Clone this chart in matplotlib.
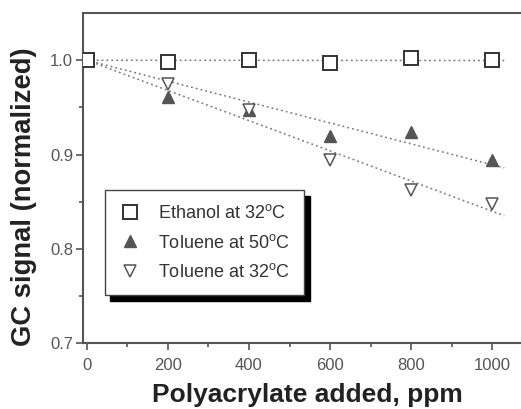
import numpy as np
import matplotlib
matplotlib.use("Agg")
import matplotlib.pyplot as plt

plt.rcParams['font.family'] = ['Liberation Sans', 'DejaVu Sans']
plt.rcParams['mathtext.default'] = 'regular'

# data
ppm = [0, 200, 400, 600, 800, 1000]
ethanol_32 = [1.000, 0.998, 1.000, 0.997, 1.002, 1.000]
toluene_50 = [1.000, 0.961, 0.947, 0.920, 0.924, 0.894]
toluene_32 = [1.000, 0.975, 0.947, 0.894, 0.862, 0.848]

labels = ['Ethanol at 32$^o$C', 'Toluene at 50$^o$C', 'Toluene at 32$^o$C']

fig = plt.figure(figsize=(5.21, 4.09), dpi=100)
ax = fig.add_axes([0.159, 0.161, 0.84, 0.807])

# dotted fit lines, forced through (0, 1)
xfit = np.array([0, 1030])
x = np.array(ppm, dtype=float)
for ys in (ethanol_32, toluene_50, toluene_32):
    k = np.sum(x * (np.array(ys) - 1.0)) / np.sum(x * x)
    ax.plot(xfit, 1.0 + k * xfit, ls=(0, (1.2, 2)), color='#777777', lw=1.1, zorder=1)

ax.plot(ppm, ethanol_32, 's', ms=10, mfc='white', mec='#333333', mew=1.4,
        ls='none', label=labels[0], zorder=3)
ax.plot(ppm[1:], toluene_50[1:], '^', ms=8.5, mfc='#555555', mec='#555555',
        ls='none', label=labels[1], zorder=2)
ax.plot(ppm[1:], toluene_32[1:], 'v', ms=8.5, mfc='white', mec='#555555', mew=1.1,
        ls='none', label=labels[2], zorder=2)

ax.set_xlim(-10, 1070)
ax.set_ylim(0.7, 1.05)
ax.set_xticks(range(0, 1001, 200))
ax.set_xticks(range(100, 1001, 200), minor=True)
ax.set_yticks([0.7, 0.8, 0.9, 1.0])
ax.set_yticks([0.75, 0.85, 0.95], minor=True)
ax.set_yticklabels(['0.7', '0.8', '0.9', '1.0'])

ax.tick_params(which='both', direction='out', colors='#555555', labelcolor='#555555',
               labelsize=12, width=1.2)
ax.tick_params(which='major', length=5)
ax.tick_params(which='minor', length=3)
ax.tick_params(axis='x', which='major', pad=6)
ax.tick_params(axis='y', which='major', pad=2)
for s in ax.spines.values():
    s.set_color('#555555')
    s.set_linewidth(1.5)
ax.spines['right'].set_visible(False)  # cut off in the reference

ax.set_xlabel('Polyacrylate added, ppm', fontsize=19, fontweight='bold', color='#222222')
ax.xaxis.set_label_coords(0.514, -0.122)
ax.set_ylabel('GC signal (normalized)', fontsize=19.7, fontweight='bold', color='#222222')
ax.yaxis.set_label_coords(-0.105, 0.445)

leg = ax.legend(loc='upper left', bbox_to_anchor=(0.05, 0.464), borderaxespad=0,
                fontsize=13, frameon=True, fancybox=False, edgecolor='#444444',
                labelcolor='#333333', handletextpad=0.95, borderpad=0.8,
                labelspacing=0.62, handlelength=1.2,
                shadow={'ox': 4, 'oy': -4, 'color': 'black', 'alpha': 1})
leg.get_frame().set_linewidth(1.0)

fig.savefig('out.png', dpi=100)
